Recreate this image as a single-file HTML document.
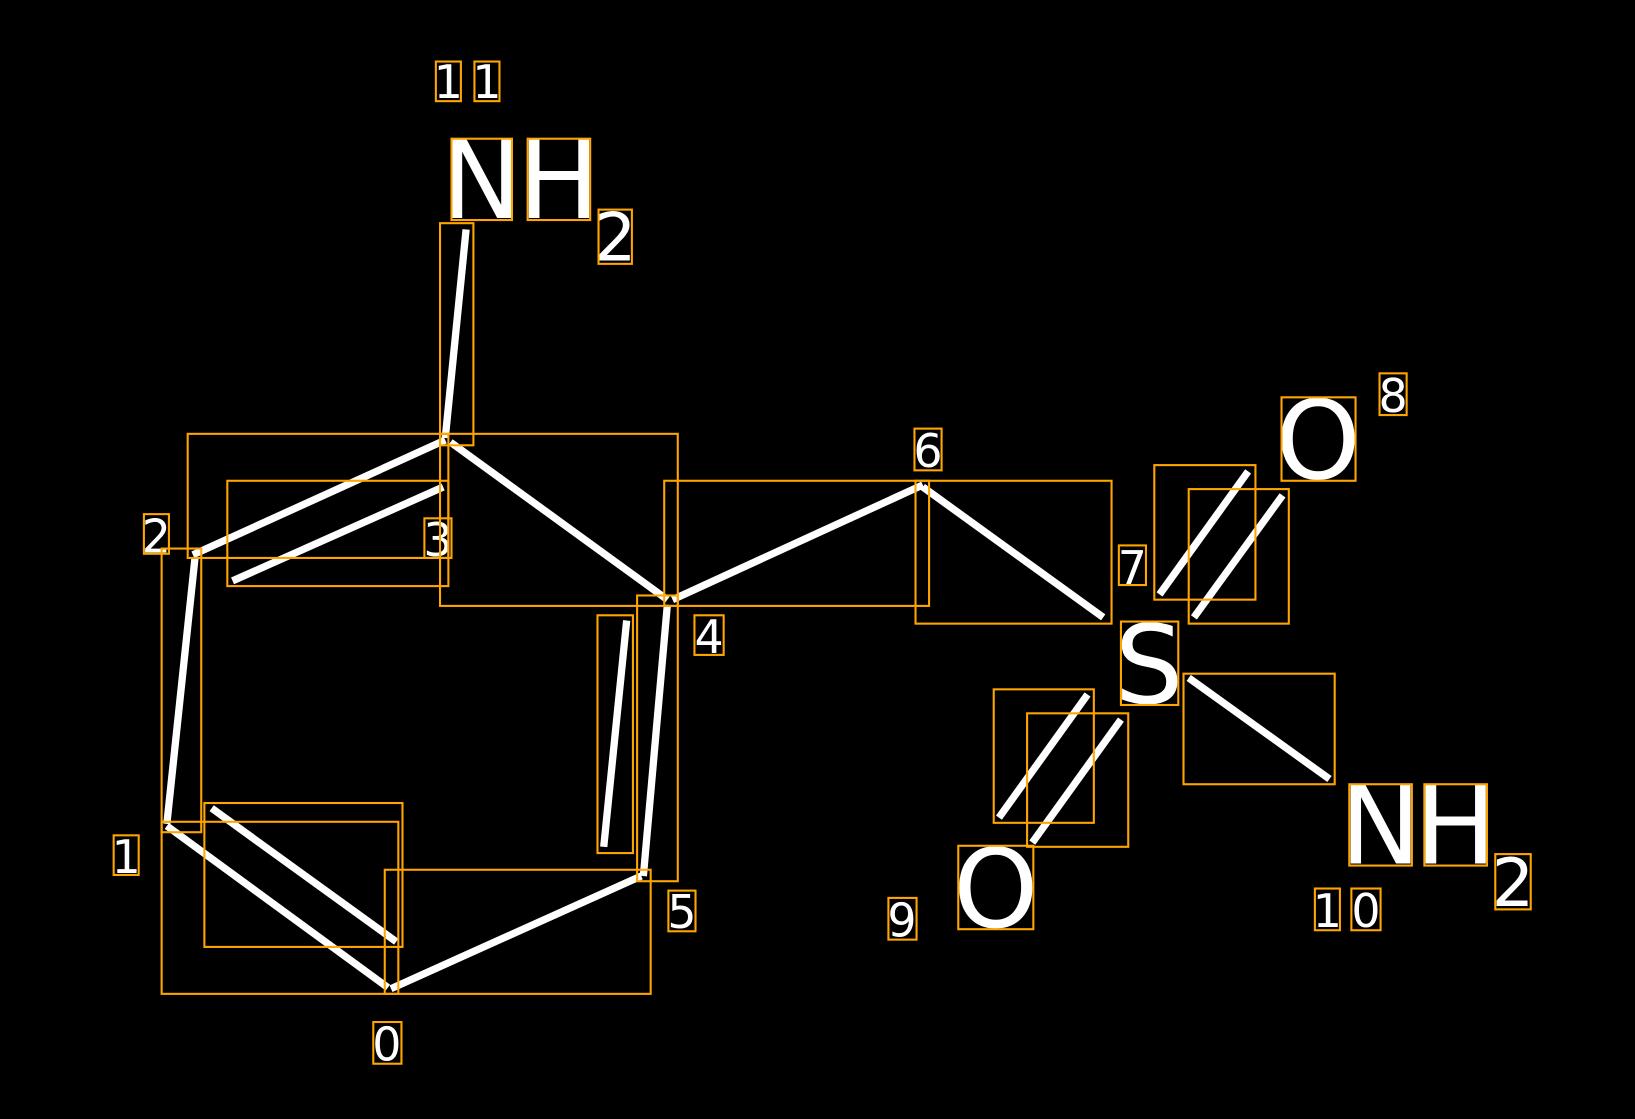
<!DOCTYPE html>
<html><head><meta charset="utf-8"><style>html,body{margin:0;padding:0;background:#000;overflow:hidden}svg{display:block}</style></head>
<body>
<svg width="1635" height="1119" viewBox="0 0 1568 1073" preserveAspectRatio="none" xmlns="http://www.w3.org/2000/svg">
<rect x="0" y="0" width="1568" height="1073" fill="#000"/>
<g stroke="#fff" stroke-width="7" stroke-linecap="butt">
<line x1="447" y1="220" x2="427" y2="420"/>
<line x1="427" y1="422" x2="185" y2="532"/>
<line x1="425" y1="467" x2="223" y2="557"/>
<line x1="432" y1="424" x2="640" y2="575"/>
<line x1="645" y1="575" x2="885" y2="465"/>
<line x1="885" y1="467" x2="1058" y2="592"/>
<line x1="640" y1="580" x2="617" y2="840"/>
<line x1="601" y1="595" x2="579" y2="812"/>
<line x1="615" y1="840" x2="375" y2="948"/>
<line x1="372" y1="947" x2="160" y2="792"/>
<line x1="203" y1="775" x2="380" y2="903"/>
<line x1="160" y1="790" x2="187" y2="535"/>
<line x1="1112" y1="570" x2="1197" y2="452"/>
<line x1="1145" y1="592" x2="1230" y2="475"/>
<line x1="958" y1="784" x2="1043" y2="666"/>
<line x1="990" y1="808" x2="1075" y2="690"/>
<line x1="1140" y1="650" x2="1275" y2="747"/>
</g>
<g fill="#fff" font-family="DejaVu Sans, Liberation Sans, sans-serif" text-anchor="middle">
<text x="430" y="94" font-size="44">1</text><text x="467" y="94" font-size="44">1</text>
<text x="462" y="209" font-size="104">N</text><text x="536" y="209" font-size="104">H</text>
<text x="590" y="250" font-size="64">2</text>
<text x="420" y="533" font-size="44">3</text>
<text x="890" y="448" font-size="44">6</text>
<text x="1086" y="560" font-size="44">7</text>
<text x="680" y="626" font-size="44">4</text>
<text x="150" y="530" font-size="44">2</text>
<text x="121" y="837" font-size="44">1</text>
<text x="654" y="890" font-size="44">5</text>
<text x="371" y="1017" font-size="44">0</text>
<text x="1102" y="674" font-size="104">S</text>
<text x="1264" y="459" font-size="104">O</text>
<text x="1336" y="395" font-size="44">8</text>
<text x="955" y="889" font-size="104">O</text>
<text x="865" y="898" font-size="44">9</text>
<text x="1324" y="828" font-size="104">N</text><text x="1396" y="828" font-size="104">H</text>
<text x="1451" y="869" font-size="64">2</text>
<text x="1273" y="889" font-size="44">1</text><text x="1310" y="889" font-size="44">0</text>
</g>
<g fill="none" stroke="#FFA500" stroke-width="2">
<rect x="418" y="59" width="24" height="38"/><rect x="455" y="59" width="24" height="38"/>
<rect x="433" y="133" width="58" height="78"/><rect x="506" y="133" width="60" height="78"/>
<rect x="574" y="201" width="32" height="52"/>
<rect x="422" y="214" width="32" height="213"/>
<rect x="180" y="416" width="250" height="119"/>
<rect x="422" y="416" width="228" height="165"/>
<rect x="218" y="461" width="212" height="101"/>
<rect x="407" y="497" width="26" height="38"/>
<rect x="637" y="461" width="254" height="120"/>
<rect x="878" y="461" width="188" height="137"/>
<rect x="877" y="411" width="26" height="40"/>
<rect x="1073" y="523" width="26" height="38"/>
<rect x="666" y="590" width="28" height="38"/>
<rect x="611" y="571" width="39" height="274"/>
<rect x="573" y="590" width="34" height="228"/>
<rect x="138" y="493" width="24" height="38"/>
<rect x="155" y="526" width="38" height="272"/>
<rect x="109" y="801" width="24" height="38"/>
<rect x="155" y="788" width="227" height="165"/>
<rect x="196" y="770" width="190" height="138"/>
<rect x="369" y="834" width="255" height="119"/>
<rect x="641" y="854" width="26" height="39"/>
<rect x="358" y="980" width="27" height="40"/>
<rect x="1075" y="596" width="55" height="80"/>
<rect x="1229" y="381" width="71" height="80"/>
<rect x="1323" y="358" width="26" height="40"/>
<rect x="1107" y="446" width="97" height="129"/>
<rect x="1140" y="469" width="96" height="129"/>
<rect x="953" y="661" width="96" height="128"/>
<rect x="985" y="684" width="97" height="128"/>
<rect x="919" y="811" width="72" height="80"/>
<rect x="852" y="861" width="27" height="40"/>
<rect x="1135" y="646" width="145" height="106"/>
<rect x="1294" y="752" width="60" height="78"/><rect x="1366" y="752" width="60" height="78"/>
<rect x="1434" y="819" width="34" height="53"/>
<rect x="1261" y="852" width="24" height="40"/><rect x="1296" y="852" width="28" height="40"/>
</g>
</svg>
</body></html>
